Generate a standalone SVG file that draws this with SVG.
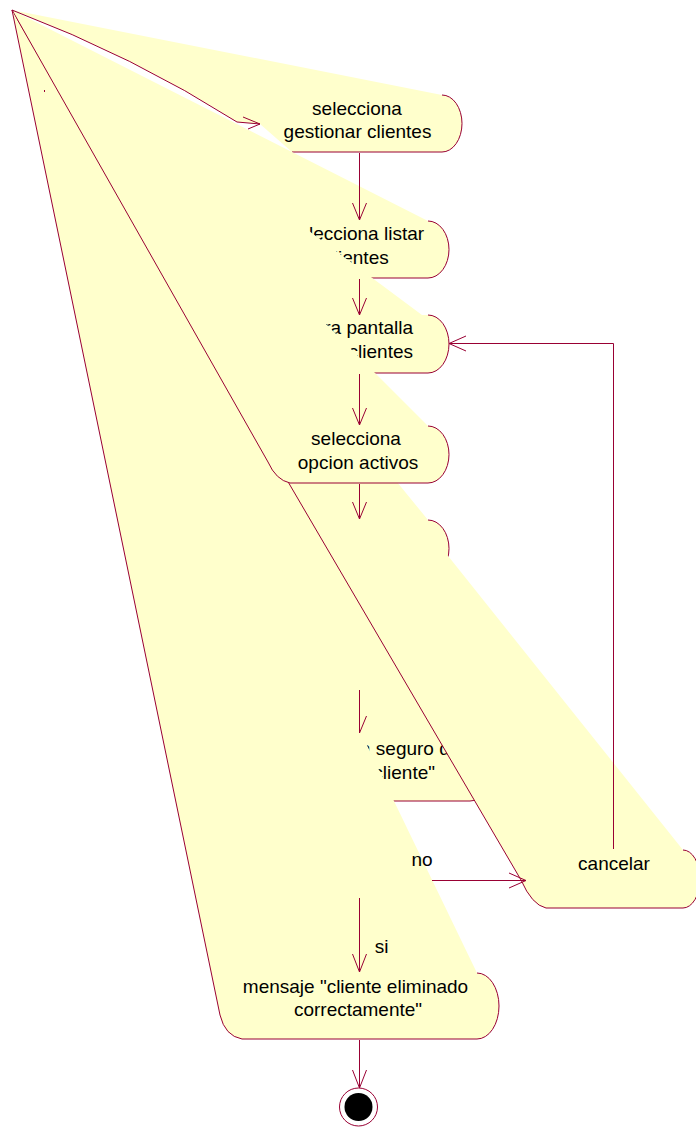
<svg xmlns="http://www.w3.org/2000/svg" width="696" height="1128" viewBox="0 0 696 1128">
<style>
.f{fill:#FFFFCC;stroke:none}
.s{fill:none;stroke:#990033;stroke-width:1}
.t{font-family:"Liberation Sans",Arial,sans-serif;font-size:19px;fill:#000}
.c{text-anchor:middle}
.e{text-anchor:end}
</style>
<rect width="696" height="1128" fill="#fff"/>
<g id="n1">
<path class="f" d="M12,10 L442,95 A20,28.5 0 0 1 442,152 L292,152 L260,124 L237,122 Q135,57 12,10 Z"/>
<path class="s" d="M442,95 A20,28.5 0 0 1 442,152 L292,152"/>
<text class="t c" x="357" y="115">selecciona</text>
<text class="t c" x="357.5" y="138">gestionar clientes</text>
</g>
<g id="n2">
<path class="f" d="M12,10 L428,221 A21,28.5 0 0 1 428,278 L300,278 Z"/>
<path class="s" d="M428,221 A21,28.5 0 0 1 428,278 L300,278"/>
<text class="t c" x="356.5" y="240">selecciona listar</text>
<text class="t c" x="356.5" y="264">clientes</text>
</g>
<g id="n3">
<path class="f" d="M12,10 L422,315 L428,315 A21,29 0 0 1 428,373 L300,373 Z"/>
<path class="s" d="M428,315 A21,29 0 0 1 428,373 L300,373"/>
<text class="t e" x="413" y="334">ra pantalla</text>
<text class="t e" x="413" y="358">clientes</text>
</g>
<g id="n5">
<path class="f" d="M12,10 L428,520 A21,28.5 0 0 1 428,577 L300,577 Z"/>
<path class="s" d="M428,520 A21,28.5 0 0 1 428,577"/>
</g>
<g id="n6">
<path class="f" d="M12,10 L470,742 A20,29.5 0 0 1 470,801 L372,801 Z"/>
<path class="s" d="M470,742 A20,29.5 0 0 1 470,801 L372,801"/>
<text class="t" x="360" y="755">a seguro de</text>
<text class="t e" x="435" y="779">cliente"</text>
</g>
<g id="cancel">
<path class="f" d="M12,10 L683,850 A17,29 0 0 1 683,908 L546,908 Q532,905 521,880 Z"/>
<path class="s" d="M683,850 A17,29 0 0 1 683,908 L546,908 Q532,905 521,880 L12,10"/>
<text class="t c" x="614" y="870">cancelar</text>
</g>
<g id="n4">
<path class="f" d="M12,10 L428,426 A21,28.5 0 0 1 428,483 L290,483 Q276,480 268,462 Z"/>
<path class="s" d="M428,426 A21,28.5 0 0 1 428,483 L290,483 Q276,480 268,462 L12,10"/>
<text class="t c" x="356" y="445">selecciona</text>
<text class="t c" x="358" y="469">opcion activos</text>
</g>
<g id="n7">
<path class="f" d="M12,10 L477,973 A22,33 0 0 1 477,1039 L242,1039 Q225,1036 220,1015 Z"/>
<path class="s" d="M477,973 A22,33 0 0 1 477,1039 L242,1039 Q225,1036 220,1015 L12,10"/>
<text class="t c" x="355.5" y="993">mensaje "cliente eliminado</text>
<text class="t c" x="358" y="1016">correctamente"</text>
</g>
<g id="final">
<circle cx="358.5" cy="1107" r="19" fill="#fff" stroke="#990033" stroke-width="1"/>
<circle cx="358.5" cy="1107" r="14" fill="#000"/>
</g>
<g id="connectors">
<path class="s" d="M12,10 Q135,57 237,122 L260,124 M243,117 L260,124 L248,129"/>
<rect x="44" y="90" width="1" height="2" fill="#990033"/>
<path class="s" d="M359.5,153 L359.5,220 M352.5,203 L359.5,220 L366.5,203"/>
<path class="s" d="M359.5,279 L359.5,315 M352.5,298 L359.5,315 L366.5,298"/>
<path class="s" d="M359.5,374 L359.5,425 M352.5,408 L359.5,425 L366.5,408"/>
<path class="s" d="M359.5,484 L359.5,519 M352.5,502 L359.5,519 L366.5,502"/>
<path class="s" d="M359.5,690 L359.5,733 L366.5,716"/>
<path class="s" d="M613.5,849 L613.5,343.5 L449,343.5 M466,336 L449,343.5 L466,351"/>
<path class="s" d="M432,880.5 L526,880.5 M509,873 L526,880.5 L509,888"/>
<path class="s" d="M359.5,898 L359.5,972 M352.5,954 L359.5,972 L366.5,954"/>
<path class="s" d="M359.5,1040 L359.5,1088 M352.5,1070 L359.5,1088 L366.5,1070"/>
<text class="t c" x="422" y="866">no</text>
<text class="t c" x="381.5" y="953">si</text>
</g>
</svg>
